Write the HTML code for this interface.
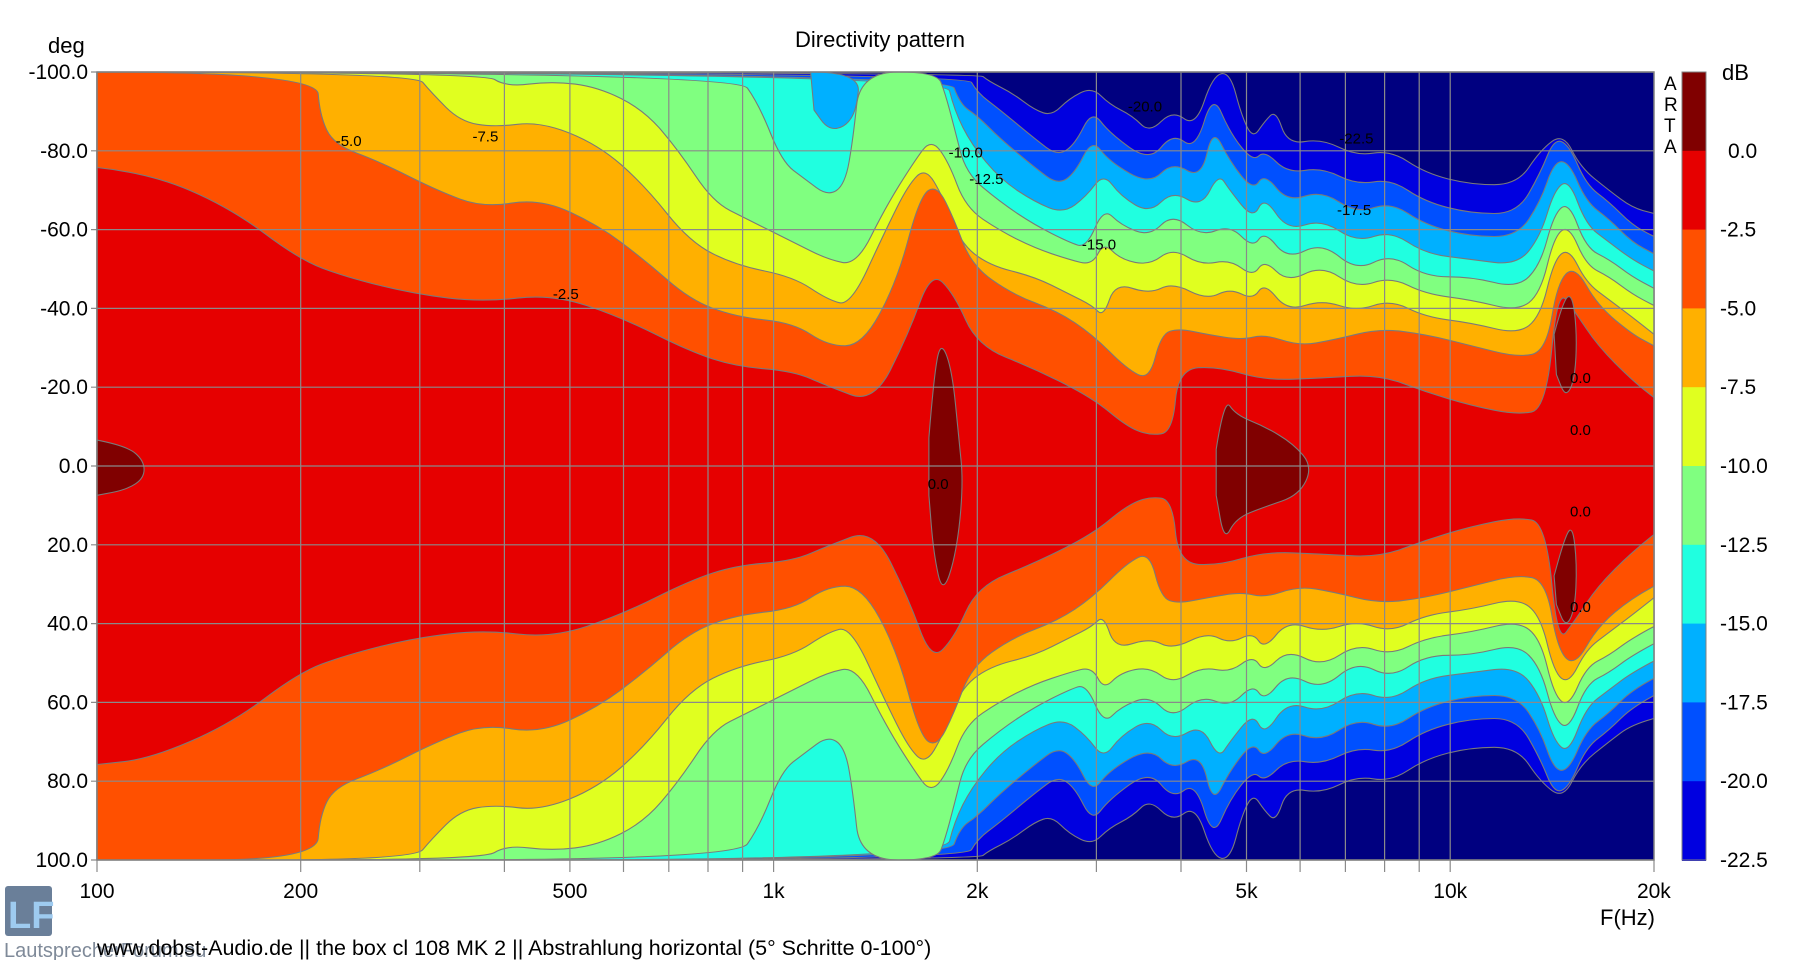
<!DOCTYPE html>
<html><head><meta charset="utf-8"><style>
body{margin:0;background:#fff;width:1802px;height:960px;overflow:hidden;font-family:"Liberation Sans",Arial,sans-serif}
svg text{font-family:"Liberation Sans",Arial,sans-serif}
</style></head><body>
<svg id="s" width="1802" height="960" xmlns="http://www.w3.org/2000/svg">
<rect x="97" y="72" width="1557" height="788" fill="#000080"/>
<g id="c"></g>
<g id="g" stroke="#8a8a8a" stroke-width="1.2"></g>
<rect x="97" y="72" width="1557" height="788" fill="none" stroke="#808080" stroke-width="1.5"/>
<g id="t" font-size="21" fill="#000"></g>
<text x="880" y="47" font-size="22" text-anchor="middle">Directivity pattern</text>
<text x="48" y="53" font-size="22">deg</text>
<text x="1664" y="90" font-size="19">A</text>
<text x="1664" y="111" font-size="19">R</text>
<text x="1664" y="132" font-size="19">T</text>
<text x="1664" y="153" font-size="19">A</text>
<text x="1722" y="80" font-size="22">dB</text>
<text x="1600" y="925" font-size="22">F(Hz)</text>
<rect x="5" y="886" width="47" height="50" rx="3" fill="#6a7f99"/>
<text x="8" y="928" font-size="38" fill="#9ecbf0" font-weight="bold">LF</text>
<text x="4" y="957" font-size="20" fill="#7f8a99">LautsprecherForum.eu</text>
<text x="97" y="955" font-size="21.5" fill="#000">www.dobst-Audio.de  ||  the box cl 108 MK 2 ||  Abstrahlung horizontal (5° Schritte 0-100°)</text>
</svg>
<script>
const X=x=>97+(x-84)*1.1491, Y=y=>72+(y-62)*1.1504;
const M=809;
const L=[
["#0000e0",[[84,62],[850,62],[860,70],[880,80],[900,95],[915,100],[930,85],[950,75],[965,90],[985,100],[1000,115],[1020,95],[1040,110],[1055,65],[1070,62],[1080,100],[1090,120],[1100,105],[1110,95],[1120,125],[1150,120],[1180,135],[1210,130],[1240,150],[1280,160],[1320,160],[1340,130],[1360,115],[1375,145],[1400,165],[1420,180],[1439,185]]],
["#0050ff",[[84,62],[840,62],[850,80],[870,95],[900,120],[920,135],[935,125],[950,95],[965,115],[1000,140],[1020,115],[1040,130],[1055,80],[1070,115],[1090,140],[1100,130],[1120,150],[1150,145],[1180,160],[1210,155],[1240,175],[1280,185],[1320,185],[1340,150],[1352,120],[1365,125],[1380,160],[1400,175],[1420,195],[1439,205]]],
["#00b0ff",[[84,62],[825,62],[835,90],[850,100],[870,120],[900,145],[920,160],[935,150],[950,120],[965,140],[1000,160],[1020,140],[1045,155],[1055,110],[1070,140],[1090,165],[1100,150],[1120,175],[1150,165],[1180,185],[1210,175],[1240,195],[1280,205],[1320,205],[1340,175],[1352,140],[1365,140],[1380,175],[1400,190],[1420,210],[1439,220]]],
["#20ffe0",[[84,62],[822,62],[830,95],[845,125],[870,155],[900,175],[925,185],[945,170],[960,150],[975,170],[1000,185],[1020,165],[1045,180],[1060,150],[1070,165],[1090,190],[1100,170],[1120,200],[1150,190],[1180,210],[1210,200],[1240,220],[1280,225],[1320,230],[1340,205],[1352,165],[1365,155],[1380,195],[1400,210],[1420,225],[1439,235]]],
["#00b0ff",[[705,62],[748,62],[745,95],[735,110],[720,112],[708,95]],1],
["#80ff80",[[84,62],[640,62],[660,90],[680,140],[700,155],[720,170],[735,160],[742,120],[748,62],[815,62],[822,80],[830,110],[840,150],[870,175],[900,195],[930,210],[945,215],[960,180],[975,195],[1000,205],[1020,185],[1045,205],[1070,195],[1090,215],[1100,200],[1120,225],[1150,210],[1180,235],[1210,220],[1240,240],[1280,240],[1320,250],[1340,230],[1352,185],[1365,175],[1380,215],[1400,225],[1420,240],[1439,250]]],
["#e0ff20",[[84,62],[420,62],[440,75],[480,70],[520,75],[560,95],[590,130],[620,175],[650,190],[690,210],[720,225],[745,230],[770,180],[795,140],[810,120],[825,140],[840,180],[870,200],[900,215],[930,225],[950,230],[960,210],[975,225],[1000,230],[1020,215],[1045,230],[1070,225],[1090,240],[1100,225],[1120,245],[1150,230],[1180,250],[1210,240],[1240,255],[1280,260],[1320,270],[1340,255],[1352,205],[1365,195],[1380,230],[1400,240],[1420,255],[1439,265]]],
["#ffb000",[[84,62],[360,62],[375,80],[400,105],[430,110],[470,105],[520,125],[560,160],[600,210],[640,230],[690,240],[720,260],[740,265],[770,200],[790,160],[805,145],[820,170],[835,210],[860,230],[900,240],[930,255],[950,265],[960,275],[970,245],[1000,255],[1020,245],[1050,260],[1070,250],[1090,260],[1100,245],[1120,270],[1150,260],[1180,270],[1210,260],[1240,275],[1280,280],[1320,290],[1340,275],[1352,225],[1365,215],[1380,245],[1400,260],[1420,275],[1439,290]]],
["#ff5000",[[84,62],[275,62],[278,100],[290,125],[330,140],[380,165],[420,180],[470,172],[520,195],[560,225],[600,260],[640,275],[690,280],[720,300],[750,300],[780,245],[800,170],[815,160],[830,190],[845,230],[880,255],[920,270],[950,290],[980,320],[1000,330],[1010,290],[1025,285],[1050,290],[1080,295],[1100,290],[1130,300],[1160,295],[1200,285],[1240,290],[1280,300],[1320,310],[1345,305],[1355,245],[1370,230],[1390,265],[1420,290],[1439,300]]],
["#e60000",[[84,145],[130,150],[200,180],[260,225],[300,240],[360,255],[420,262],[480,255],[540,275],[600,305],[640,318],[690,322],[720,335],[760,350],[790,290],[810,235],[830,255],[850,300],[900,320],[950,345],[980,370],[1000,378],[1020,375],[1025,320],[1060,318],[1100,330],[1150,328],[1200,325],[1240,340],[1280,352],[1320,360],[1345,355],[1355,250],[1370,270],[1390,300],[1420,330],[1439,345]]],
["#800000",[[84,382],[110,387],[125,400],[125,415],[110,425],[84,430]],1],
["#800000",[[808,380],[812,330],[818,295],[828,320],[834,380],[838,420],[832,480],[820,517],[812,480],[808,430]],1],
["#800000",[[1058,390],[1065,345],[1075,360],[1100,370],[1125,385],[1142,405],[1130,430],[1100,440],[1075,450],[1065,470],[1058,430]],1],
["#800000",[[1352,290],[1360,260],[1368,255],[1372,290],[1370,330],[1362,345],[1354,325]],1],
["#800000",[[1352,500],[1360,470],[1368,455],[1372,490],[1370,530],[1362,545],[1354,525]],1]
];
function smooth(p,closed){
 // quadratic smoothing through midpoints
 const n=p.length;let d=`M${p[0][0].toFixed(1)},${p[0][1].toFixed(1)}`;
 for(let i=1;i<n-1;i++){const mx=(p[i][0]+p[i+1][0])/2,my=(p[i][1]+p[i+1][1])/2;d+=`Q${p[i][0].toFixed(1)},${p[i][1].toFixed(1)} ${mx.toFixed(1)},${my.toFixed(1)}`;}
 d+=`L${p[n-1][0].toFixed(1)},${p[n-1][1].toFixed(1)}Z`;return d;
}
let h="";
for(const [col,pts,closed] of L){
 let top=pts.map(q=>[X(q[0]),Y(q[1])]);
 let d;
 if(!closed){
  const bot=pts.slice().reverse().map(q=>[X(q[0]),Y(M-q[1])]);
  const a=smooth(top).replace(/Z$/,''), b=smooth(bot).replace(/^M/,'L').replace(/Z$/,'');
  d=a+b+'Z';
 } else d=smooth(top);
 h+=`<path d="${d}" fill="${col}" stroke="#7a7a7a" stroke-width="1.1" stroke-linejoin="round"/>`;
}
document.getElementById('c').innerHTML=h;
let g="",t="";
const fx=f=>97+676.6*Math.log10(f/100);
[200,300,400,500,600,700,800,900,1000,2000,3000,4000,5000,6000,7000,8000,9000,10000].forEach(f=>{const x=fx(f).toFixed(1);g+=`<line x1="${x}" y1="72" x2="${x}" y2="872"/>`});
g+=`<line x1="97" y1="860" x2="97" y2="872"/><line x1="1654" y1="860" x2="1654" y2="872"/>`;
for(let d=-100;d<=100;d+=20){const y=72+(d+100)*3.94;g+=`<line x1="91" y1="${y}" x2="1654" y2="${y}"/>`;t+=`<text x="88" y="${y+7}" text-anchor="end">${d.toFixed(1)}</text>`;}
[[100,"100"],[200,"200"],[500,"500"],[1000,"1k"],[2000,"2k"],[5000,"5k"],[10000,"10k"],[20000,"20k"]].forEach(a=>{t+=`<text x="${fx(a[0])}" y="898" text-anchor="middle">${a[1]}</text>`});
const cols=["#800000","#e60000","#ff5000","#ffb000","#e0ff20","#80ff80","#20ffe0","#00b0ff","#0050ff","#0000e0"];
let cb="";cols.forEach((c,i)=>{cb+=`<rect x="1682" y="${72+i*78.8}" width="24" height="79.8" fill="${c}"/>`});
cb+=`<rect x="1682" y="72" width="24" height="788" fill="none" stroke="#808080"/>`;
["0.0","-2.5","-5.0","-7.5","-10.0","-12.5","-15.0","-17.5","-20.0","-22.5"].forEach((s,i)=>{t+=`<text x="${s.length<4?1728:1720}" y="${72+(i+1)*78.8+7}">${s}</text>`});
[[303,122,"-5.0"],[422,118,"-7.5"],[492,255,"-2.5"],[840,132,"-10.0"],[858,155,"-12.5"],[956,212,"-15.0"],[996,92,"-20.0"],[1180,120,"-22.5"],[1178,182,"-17.5"],[816,420,"0.0"],[1375,328,"0.0"],[1375,373,"0.0"],[1375,444,"0.0"],[1375,527,"0.0"]].forEach(a=>{t+=`<text x="${X(a[0])}" y="${Y(a[1])+5}" font-size="15" text-anchor="middle">${a[2]}</text>`});
document.getElementById('g').innerHTML=g;
document.getElementById('t').innerHTML=cb+t;
</script>
</body></html>
